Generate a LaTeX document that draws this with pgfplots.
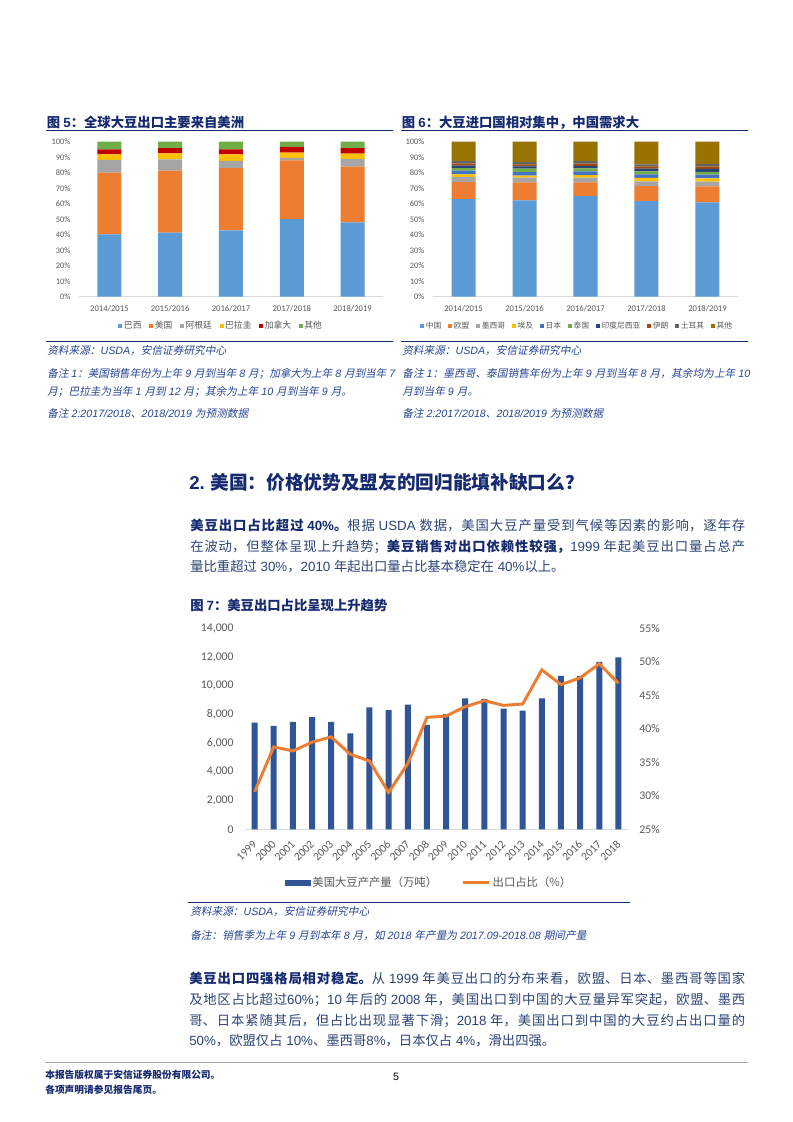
\documentclass[border=0pt]{standalone}
\usepackage{pgfplots}
\usepackage{pgfplotstable}
\pgfplotsset{compat=1.18}
\usepackage{fontspec}
\setmainfont{Noto Sans CJK SC}
\newfontfamily\lat{Liberation Sans}
\newfontfamily\carlito{Carlito}
\newfontfamily\cjkit[FakeSlant=0.2]{Noto Sans CJK SC}
\XeTeXlinebreaklocale "zh"
\XeTeXlinebreakskip=0pt plus 2pt minus 0.3pt
\definecolor{navy}{RGB}{22,42,112}
\definecolor{bodyc}{RGB}{45,68,118}
\definecolor{srcc}{RGB}{40,70,150}
\definecolor{tickc}{RGB}{89,89,89}
\definecolor{cA}{RGB}{91,155,213}
\definecolor{cB}{RGB}{237,125,49}
\definecolor{cC}{RGB}{165,165,165}
\definecolor{cD}{RGB}{255,192,0}
\definecolor{cE}{RGB}{68,114,196}
\definecolor{cF}{RGB}{112,173,71}
\definecolor{cG}{RGB}{38,68,120}
\definecolor{cH}{RGB}{158,72,14}
\definecolor{cI}{RGB}{99,99,99}
\definecolor{cJ}{RGB}{153,115,0}
\definecolor{cRed}{RGB}{192,0,0}
\definecolor{bar7}{RGB}{47,85,151}
\newcommand{\la}[1]{{\lat #1}}
\newcommand{\li}[1]{{\lat\itshape #1}}
\newcommand{\B}[1]{{\bfseries\color{navy}#1}}
\newcommand{\J}[2]{\parbox[b]{#1}{\parfillskip=0pt\relax\leavevmode #2}}
\newcommand{\s}{\kern0.28em}

\pgfplotstableread{
x br us ar pa ca ot
0 40.2 39.8 8.2 3.6 3.3 4.9
1 41.3 40.0 7.3 3.9 3.4 4.1
2 42.8 40.2 4.7 4.1 3.3 4.9
3 50.1 37.9 1.5 3.4 3.7 3.4
4 48.0 35.9 5.1 3.3 3.6 4.1
}\tabA
\pgfplotstableread{
x cn eu mx eg jp th id ir tr ot
0 63.0 11.0 3.2 1.7 2.4 1.7 1.5 1.3 1.7 12.5
1 62.2 11.6 3.0 1.3 2.3 2.2 1.5 1.3 1.5 13.1
2 64.9 8.9 3.0 1.7 2.4 1.9 1.5 1.5 1.7 12.5
3 61.7 9.7 3.0 2.2 2.3 2.0 1.7 1.5 1.3 14.6
4 60.9 10.3 3.0 2.1 2.4 1.9 1.8 1.7 1.5 14.4
}\tabB
\pgfplotstableread{
x p s
0 7430 30.6
1 7200 37.3
2 7480 36.7
3 7820 38.0
4 7480 38.8
5 6690 36.2
6 8500 35.2
7 8310 30.5
8 8680 34.8
9 7270 41.7
10 8030 41.9
11 9120 43.3
12 9080 44.2
13 8400 43.5
14 8270 43.7
15 9120 48.8
16 10680 46.6
17 10680 47.6
18 11660 49.7
19 11980 46.8
}\tabC

\pgfplotsset{
  stk/.style={scale only axis, width=228pt, height=116.25pt,
    ybar stacked, bar width=18pt, xmin=-0.5, xmax=4.5, ymin=0, ymax=100,
    xtick={0,...,4}, xticklabels={2014/2015,2015/2016,2016/2017,2017/2018,2018/2019},
    ytick={0,10,...,100}, yticklabel={\pgfmathprintnumber{\tick}\%},
    axis lines*=left, y axis line style={draw=none},
    x axis line style={draw=gray!30, line width=0.8pt},
    major tick length=0pt, clip=false,
    /pgf/number format/assume math mode=true,
    yticklabel style={font=\carlito\fontsize{6.3}{7}\selectfont, text=tickc, xshift=-3pt},
    xticklabel style={font=\carlito\fontsize{6.5}{7}\selectfont, text=tickc, yshift=-3.3pt},
    legend image code/.code={\fill[##1] (0pt,-1.5pt) rectangle (3pt,1.5pt);},
    legend cell align=left,
  },
}

\begin{document}
\begin{tikzpicture}
\begin{scope}[x=0.75pt,y=-0.75pt]
\path[use as bounding box] (0,0) rectangle (793,1122);
\fill[white] (0,0) rectangle (793,1122);

% ---------- Figure 5 text ----------
\node[anchor=base west, inner sep=0, font=\fontsize{10}{12}\selectfont\bfseries, text=navy] at (46.7,127) {图 \la{5}：全球大豆出口主要来自美洲};
\draw[navy, line width=0.9pt] (46,130.5) -- (393,130.5);
\draw[navy, line width=0.9pt] (46,341.7) -- (393,341.7);
\begin{scope}[every node/.style={anchor=base west, inner sep=0, font=\fontsize{8}{9}\selectfont\cjkit, text=srcc}]
\node at (47,354) {资料来源：\li{USDA}，安信证券研究中心};
\node at (47,377) {\J{261pt}{备注\s{}\li{1}：美国销售年份为上年\s{}\li{9}\s{}月到当年\s{}\li{8}\s{}月；加拿大为上年\s{}\li{8}\s{}月到当年\s{}\li{7}}};
\node at (47,395) {月；巴拉圭为当年\s{}\li{1}\s{}月到\s{}\li{12}\s{}月；其余为上年\s{}\li{10}\s{}月到当年\s{}\li{9}\s{}月。};
\node at (47,417) {备注\s{}\li{2:2017/2018}、\li{2018/2019}\s{}为预测数据};
\end{scope}

% ---------- Figure 6 text ----------
\node[anchor=base west, inner sep=0, font=\fontsize{10}{12}\selectfont\bfseries, text=navy] at (401.7,127) {图 \la{6}：大豆进口国相对集中，中国需求大};
\draw[navy, line width=0.9pt] (401,130.5) -- (748,130.5);
\draw[navy, line width=0.9pt] (401,341.7) -- (748,341.7);
\begin{scope}[every node/.style={anchor=base west, inner sep=0, font=\fontsize{8}{9}\selectfont\cjkit, text=srcc}]
\node at (402,354) {资料来源：\li{USDA}，安信证券研究中心};
\node at (402,377) {\J{261pt}{备注\s{}\li{1}：墨西哥、泰国销售年份为上年\s{}\li{9}\s{}月到当年\s{}\li{8}\s{}月，其余均为上年\s{}\li{10}}};
\node at (402,395) {月到当年\s{}\li{9}\s{}月。};
\node at (402,417) {备注\s{}\li{2:2017/2018}、\li{2018/2019}\s{}为预测数据};
\end{scope}

% ---------- Section text ----------
\node[anchor=base west, inner sep=0, font=\fontsize{14}{16}\selectfont\bfseries, text=navy] at (189,489) {\la{2.} 美国：价格优势及盟友的回归能填补缺口么？};
\begin{scope}[every node/.style={anchor=base west, inner sep=0, font=\fontsize{10}{12}\selectfont, text=bodyc}]
\node at (190,530) {\J{416.25pt}{\B{美豆出口占比超过\s{}\la{40\%}。}根据\s{}\la{USDA}\s{}数据，美国大豆产量受到气候等因素的影响，逐年存}};
\node at (190,551) {\J{416.25pt}{在波动，但整体呈现上升趋势；\B{美豆销售对出口依赖性较强，}\la{1999}\s{}年起美豆出口量占总产}};
\node at (190,571.5) {量比重超过\s{}\la{30\%}，\la{2010}\s{}年起出口量占比基本稳定在\s{}\la{40\%}以上。};
\end{scope}

% ---------- Figure 7 text ----------
\node[anchor=base west, inner sep=0, font=\fontsize{10}{12}\selectfont\bfseries, text=navy] at (190,610.5) {图 \la{7}：美豆出口占比呈现上升趋势};
\draw[navy, line width=0.9pt] (188,902.7) -- (630,902.7);
\begin{scope}[every node/.style={anchor=base west, inner sep=0, font=\fontsize{8}{9}\selectfont\cjkit, text=srcc}]
\node at (190,915) {资料来源：\li{USDA}，安信证券研究中心};
\node at (190,939) {备注：销售季为上年\s{}\li{9}\s{}月到本年\s{}\li{8}\s{}月，如\s{}\li{2018}\s{}年产量为\s{}\li{2017.09-2018.08}\s{}期间产量};
\end{scope}

% ---------- Bottom paragraph ----------
\begin{scope}[every node/.style={anchor=base west, inner sep=0, font=\fontsize{10}{12}\selectfont, text=bodyc}]
\node at (189,983) {\J{417pt}{\B{美豆出口四强格局相对稳定。}从\s{}\la{1999}\s{}年美豆出口的分布来看，欧盟、日本、墨西哥等国家}};
\node at (189,1004) {\J{417pt}{及地区占比超过\la{60\%}；\la{10}\s{}年后的\s{}\la{2008}\s{}年，美国出口到中国的大豆量异军突起，欧盟、墨西}};
\node at (189,1025) {\J{417pt}{哥、日本紧随其后，但占比出现显著下滑；\la{2018}\s{}年，美国出口到中国的大豆约占出口量的}};
\node at (189,1045.5) {\la{50\%}，欧盟仅占\s{}\la{10\%}、墨西哥\la{8\%}，日本仅占\s{}\la{4\%}，滑出四强。};
\end{scope}

% ---------- Footer ----------
\draw[gray!70, line width=1.1pt] (45,1062.7) -- (748,1062.7);
\node[anchor=base west, inner sep=0, font=\fontsize{7.3}{8}\selectfont\bfseries, text=navy] at (45,1078.5) {本报告版权属于安信证券股份有限公司。};
\node[anchor=base west, inner sep=0, font=\fontsize{7.3}{8}\selectfont\bfseries, text=navy] at (45,1093.5) {各项声明请参见报告尾页。};
\node[anchor=base, inner sep=0, font=\lat\fontsize{8}{9}\selectfont] at (396,1080.5) {5};
\end{scope}

% ---------- Figure 5 chart ----------
\begin{axis}[stk, at={(59.25pt,-222.525pt)}, anchor=south west,
  legend style={draw=none, fill=none, at={(0.467,-0.189)}, anchor=center, legend columns=6,
    font=\fontsize{6.6}{7}\selectfont, text=tickc, nodes={inner sep=1.2pt},
    /tikz/every even column/.append style={column sep=4.5pt}}]
\addplot[fill=cA, draw=none] table[x=x,y=br]{\tabA}; \addlegendentry{巴西}
\addplot[fill=cB, draw=none] table[x=x,y=us]{\tabA}; \addlegendentry{美国}
\addplot[fill=cC, draw=none] table[x=x,y=ar]{\tabA}; \addlegendentry{阿根廷}
\addplot[fill=cD, draw=none] table[x=x,y=pa]{\tabA}; \addlegendentry{巴拉圭}
\addplot[fill=cRed, draw=none] table[x=x,y=ca]{\tabA}; \addlegendentry{加拿大}
\addplot[fill=cF, draw=none] table[x=x,y=ot]{\tabA}; \addlegendentry{其他}
\end{axis}

% ---------- Figure 6 chart ----------
\begin{axis}[stk, at={(324.75pt,-222.525pt)}, anchor=south west, width=228.75pt,
  legend style={draw=none, fill=none, at={(0.472,-0.189)}, anchor=center, legend columns=10,
    font=\fontsize{5.8}{6.5}\selectfont, text=tickc, nodes={inner sep=1.1pt},
    /tikz/every even column/.append style={column sep=4.2pt}}]
\addplot[fill=cA, draw=none] table[x=x,y=cn]{\tabB}; \addlegendentry{中国}
\addplot[fill=cB, draw=none] table[x=x,y=eu]{\tabB}; \addlegendentry{欧盟}
\addplot[fill=cC, draw=none] table[x=x,y=mx]{\tabB}; \addlegendentry{墨西哥}
\addplot[fill=cD, draw=none] table[x=x,y=eg]{\tabB}; \addlegendentry{埃及}
\addplot[fill=cE, draw=none] table[x=x,y=jp]{\tabB}; \addlegendentry{日本}
\addplot[fill=cF, draw=none] table[x=x,y=th]{\tabB}; \addlegendentry{泰国}
\addplot[fill=cG, draw=none] table[x=x,y=id]{\tabB}; \addlegendentry{印度尼西亚}
\addplot[fill=cH, draw=none] table[x=x,y=ir]{\tabB}; \addlegendentry{伊朗}
\addplot[fill=cI, draw=none] table[x=x,y=tr]{\tabB}; \addlegendentry{土耳其}
\addplot[fill=cJ, draw=none] table[x=x,y=ot]{\tabB}; \addlegendentry{其他}
\end{axis}

% ---------- Figure 7 chart ----------
\begin{axis}[at={(183.75pt,-621.975pt)}, anchor=south west, scale only axis, width=287.25pt, height=150.75pt,
  ybar, bar width=4.5pt, xmin=-0.5, xmax=19.5, ymin=0, ymax=14000,
  xtick={0,...,19},
  xticklabels={1999,2000,2001,2002,2003,2004,2005,2006,2007,2008,2009,2010,2011,2012,2013,2014,2015,2016,2017,2018},
  ytick={0,2000,...,14000}, scaled y ticks=false,
  /pgf/number format/.cd, 1000 sep={,}, assume math mode=true, /pgfplots/.cd,
  axis lines*=left, y axis line style={draw=none},
  x axis line style={draw=gray!30, line width=0.8pt},
  major tick length=0pt, clip=false,
  yticklabel style={font=\carlito\fontsize{8.8}{10}\selectfont, text=tickc, xshift=-5pt},
  xticklabel style={font=\carlito\fontsize{8.6}{10}\selectfont, text=tickc, inner sep=1pt, xshift=1pt, yshift=-9pt, rotate=45, anchor=east}]
\addplot[fill=bar7, draw=none] table[x=x,y=p]{\tabC};
\end{axis}
\begin{axis}[at={(183.75pt,-621.975pt)}, anchor=south west, scale only axis, width=287.25pt, height=150.75pt,
  xmin=-0.5, xmax=19.5, ymin=25, ymax=55,
  axis x line=none, axis y line*=right, y axis line style={draw=none},
  ytick={25,30,...,55}, yticklabel={\pgfmathprintnumber{\tick}\%},
  /pgf/number format/assume math mode=true,
  major tick length=0pt, clip=false,
  yticklabel style={font=\carlito\fontsize{8.8}{10}\selectfont, text=tickc, xshift=5pt},
  legend style={draw=none, fill=none, at={(0.48,-0.266)}, anchor=center, legend columns=2,
    font=\fontsize{8.5}{10}\selectfont, text=tickc, nodes={inner sep=1.5pt},
    /tikz/every even column/.append style={column sep=17pt}},
  legend cell align=left]
\addlegendimage{legend image code/.code={\fill[bar7] (0pt,-2pt) rectangle (19pt,2pt);}}
\addlegendentry{美国大豆产产量（万吨）}
\addplot[color=cB, line width=2.2pt, mark=none,
  legend image code/.code={\draw[cB, line width=2.2pt] (0pt,0pt) -- (19.5pt,0pt);}] table[x=x,y=s]{\tabC};
\addlegendentry{出口占比（\%）}
\end{axis}
\end{tikzpicture}
\end{document}
